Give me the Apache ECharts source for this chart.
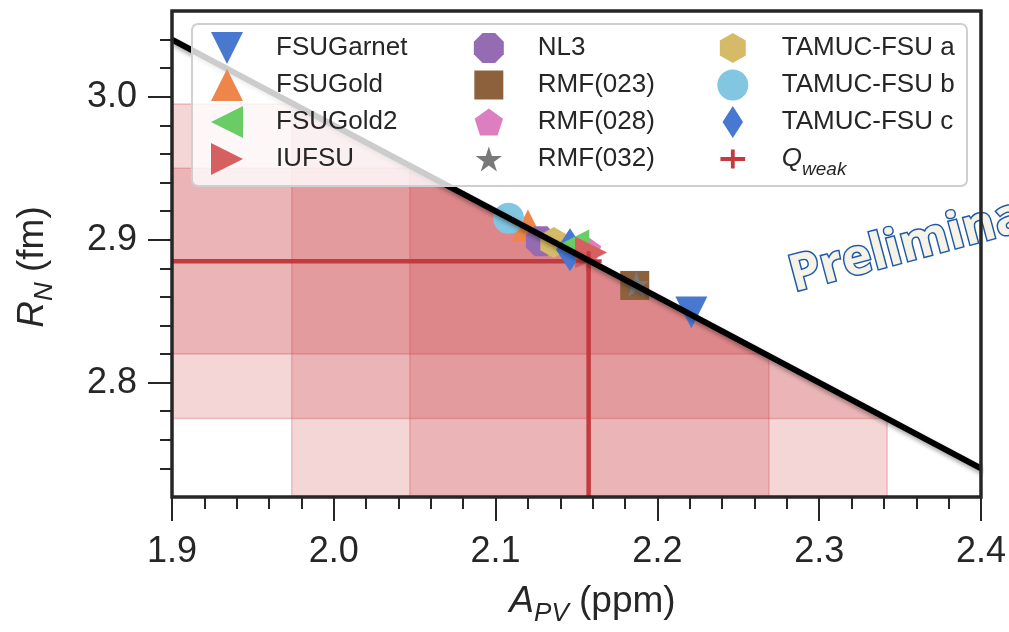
<!DOCTYPE html>
<html>
<head>
<meta charset="utf-8">
<script src="https://cdn.jsdelivr.net/npm/echarts@6/dist/echarts.min.js"></script>
<style>
  html, body { margin: 0; padding: 0; background: #fff; }
  #chart_rn { width: 1009px; height: 632px; }
</style>
</head>
<body>
<div id="chart_rn"></div>
<script>
// models, legend order, with their (A_PV, R_N) points
const modelNames = ['FSUGarnet', 'FSUGold', 'FSUGold2', 'IUFSU', 'NL3', 'RMF(023)', 'RMF(028)', 'RMF(032)', 'TAMUC-FSU a', 'TAMUC-FSU b', 'TAMUC-FSU c'];
const modelApv = [2.221, 2.120, 2.148, 2.159, 2.128, 2.186, 2.156, 2.187, 2.136, 2.108, 2.146];
const modelRn = [2.849, 2.910, 2.896, 2.891, 2.899, 2.868, 2.893, 2.869, 2.898, 2.915, 2.893];

// Qweak point and its bands (outer, inner)
const qweakApv = 2.1575;
const qweakRn = 2.885;
const apvBands = [[1.974, 2.342], [2.047, 2.269]];
const rnBands = [[2.775, 2.995], [2.820, 2.950]];

// correlation line ends
const lineApv = [1.9, 2.4];
const lineRn = [3.040, 2.740];

// axes
const xRange = [1.9, 2.4];
const yRange = [2.72, 3.06];
const xTicks = [1.9, 2.0, 2.1, 2.2, 2.3, 2.4];
const xMinorTicks = [1.92, 1.94, 1.96, 1.98, 2.02, 2.04, 2.06, 2.08, 2.12, 2.14, 2.16, 2.18, 2.22, 2.24, 2.26, 2.28, 2.32, 2.34, 2.36, 2.38];
const yTicks = [2.8, 2.9, 3.0];
const yMinorTicks = [2.74, 2.76, 2.78, 2.82, 2.84, 2.86, 2.88, 2.92, 2.94, 2.96, 2.98, 3.02, 3.04];

// ---- styles ----
const txt = '#262626';
const font = 'Liberation Sans';
const modelColors = ['#4878d0', '#ee854a', '#6acc64', '#d65f5f', '#956cb4', '#8c613c', '#dc7ec0', '#797979', '#d5bb67', '#82c6e2', '#4878d0'];
const qweakColor = '#c23b3f';
const bandFill = 'rgba(205,60,65,0.21)';
const bandEdge = 'rgba(205,60,65,0.28)';
const LEG_H = 32;

// marker shapes: path, bbox w/h, size on plot, height of icon in legend
const shapes = [
  { d: 'M0,0L100,0L50,100Z', w: 100, h: 100, size: [32, 32], leg: 32 },
  { d: 'M50,0L100,100L0,100Z', w: 100, h: 100, size: [32, 32], leg: 32 },
  { d: 'M0,50L100,0L100,100Z', w: 100, h: 100, size: [32, 32], leg: 32 },
  { d: 'M0,0L100,50L0,100Z', w: 100, h: 100, size: [32, 32], leg: 32 },
  { d: 'M29,0L71,0L100,29L100,71L71,100L29,100L0,71L0,29Z', w: 100, h: 100, size: [30, 30], leg: 30 },
  { d: 'M0,0L100,0L100,100L0,100Z', w: 100, h: 100, size: [29, 29], leg: 29 },
  { d: 'M95.1,0L190.2,69.1L153.9,180.9L36.3,180.9L0,69.1Z', w: 190.2, h: 180.9, size: [30, 28.5], leg: 27 },
  { d: 'M95.1,0L117.55,69.1L190.2,69.1L131.4,111.8L153.9,180.9L95.1,138.2L36.3,180.9L58.8,111.8L0,69.1L72.65,69.1Z', w: 190.2, h: 180.9, size: [27, 26], leg: 25 },
  { d: 'M86.6,0L173.2,50L173.2,150L86.6,200L0,150L0,50Z', w: 173.2, h: 200, size: [27, 31], leg: 30 },
  { d: 'M50,0A50,50,0,1,1,50,100A50,50,0,1,1,50,0Z', w: 100, h: 100, size: [31, 31], leg: 31 },
  { d: 'M32,0L64,50L32,100L0,50Z', w: 64, h: 100, size: [28, 43], leg: 32 }
];
const plusShape = { d: 'M0,40L130,40L130,60L0,60ZM55,0L75,0L75,100L55,100Z', w: 130, h: 100, size: [26, 20], leg: 19 };

// pad the path's box so the legend icon comes out at its own height
function symbolOf(s) {
  const k = LEG_H / s.leg;
  const px = s.w * (k - 1) / 2, py = s.h * (k - 1) / 2;
  const pad = 'M' + (-px) + ',' + (-py) + 'L' + (-px) + ',' + (-py) +
              'M' + (s.w + px) + ',' + (s.h + py) + 'L' + (s.w + px) + ',' + (s.h + py);
  return { symbol: 'path://' + s.d + (k > 1.001 ? pad : ''), symbolSize: [s.size[0] * k, s.size[1] * k] };
}

function lineAt(a) {
  return lineRn[0] + (a - lineApv[0]) * (lineRn[1] - lineRn[0]) / (lineApv[1] - lineApv[0]);
}
// keep the part of a polygon that lies below the line
function clipBelowLine(pts) {
  const out = [];
  for (let i = 0; i < pts.length; i++) {
    const p = pts[i], q = pts[(i + 1) % pts.length];
    const fp = lineAt(p[0]) - p[1], fq = lineAt(q[0]) - q[1];
    if (fp >= 0) out.push(p);
    if ((fp >= 0) !== (fq >= 0)) {
      const t = fp / (fp - fq);
      out.push([p[0] + t * (q[0] - p[0]), p[1] + t * (q[1] - p[1])]);
    }
  }
  return out;
}

const bandRects = apvBands.map(b => [b[0], b[1], yRange[0], yRange[1]])
  .concat(rnBands.map(b => [xRange[0], xRange[1], b[0], b[1]]));

// draw order of the markers
const drawOrder = [0, 1, 4, 5, 6, 7, 8, 9, 10, 2, 3];

const series = [];
series.push({
  type: 'custom', z: 1, silent: true,
  data: bandRects,
  renderItem: function (params, api) {
    const x0 = api.value(0), x1 = api.value(1), y0 = api.value(2), y1 = api.value(3);
    const poly = clipBelowLine([[x0, y0], [x1, y0], [x1, y1], [x0, y1]]);
    return {
      type: 'polygon',
      shape: { points: poly.map(p => api.coord(p)) },
      style: { fill: bandFill, stroke: bandEdge, lineWidth: 1.5 }
    };
  }
});
series.push({
  type: 'line', z: 2, silent: true, symbol: 'none',
  data: [[xRange[0], qweakRn], [qweakApv, qweakRn]],
  lineStyle: { color: qweakColor, width: 4.5 }
});
series.push({
  type: 'line', z: 2, silent: true, symbol: 'none',
  data: [[qweakApv, yRange[0]], [qweakApv, qweakRn]],
  lineStyle: { color: qweakColor, width: 4.5 }
});
drawOrder.forEach(i => {
  const sym = symbolOf(shapes[i]);
  series.push({
    name: modelNames[i], type: 'scatter', z: 2,
    symbol: sym.symbol, symbolSize: sym.symbolSize,
    data: [[modelApv[i], modelRn[i]]],
    itemStyle: { color: modelColors[i], opacity: 1 }
  });
});
const plusSym = symbolOf(plusShape);
series.push({
  name: 'Qweak', type: 'scatter', z: 2,
  symbol: plusSym.symbol, symbolSize: plusSym.symbolSize,
  data: [[qweakApv, qweakRn]],
  itemStyle: { color: qweakColor, opacity: 1 }
});
series.push({
  type: 'line', z: 3, silent: true, symbol: 'none',
  data: lineApv.map((a, i) => [a, lineRn[i]]),
  lineStyle: { color: '#000', width: 6, shadowColor: 'rgba(0,0,0,0.35)', shadowBlur: 4, shadowOffsetX: 1, shadowOffsetY: 3 }
});

const legendCols = [modelNames.slice(0, 4), modelNames.slice(4, 8), modelNames.slice(8).concat(['Qweak'])];
const legendLeft = [211, 472, 712];
const legend = legendCols.map((names, k) => ({
  data: names,
  orient: 'vertical',
  left: legendLeft[k],
  top: 32,
  padding: 0,
  itemWidth: 88,
  itemHeight: LEG_H,
  itemGap: 5,
  selectedMode: false,
  z: 6,
  formatter: name => name === 'Qweak' ? '{q|Q}{w|weak}' : name,
  textStyle: {
    fontSize: 26, color: txt, fontFamily: font,
    rich: {
      q: { fontSize: 26, fontStyle: 'italic', color: txt, fontFamily: font, verticalAlign: 'middle', lineHeight: 40 },
      w: { fontSize: 19, fontStyle: 'italic', color: txt, fontFamily: font, verticalAlign: 'bottom', lineHeight: 19 }
    }
  }
}));

const tickLine = { color: txt, width: 2 };
const nameRich = {
  i: { fontSize: 37, fontStyle: 'italic', color: txt, fontFamily: font, lineHeight: 50, verticalAlign: 'middle' },
  s: { fontSize: 26, fontStyle: 'italic', color: txt, fontFamily: font, lineHeight: 26, verticalAlign: 'bottom' },
  n: { fontSize: 37, color: txt, fontFamily: font, lineHeight: 50, verticalAlign: 'middle' }
};

const option = {
  animation: false,
  backgroundColor: '#fff',
  grid: { left: 172, right: 28, top: 11, bottom: 135, show: true, z: 4, borderColor: txt, borderWidth: 3.5, backgroundColor: 'transparent' },
  legend: legend,
  xAxis: [{
    type: 'value', min: xRange[0], max: xRange[1], position: 'bottom',
    axisLine: { show: false }, splitLine: { show: false },
    axisTick: { show: true, customValues: xTicks, length: 24, lineStyle: tickLine },
    axisLabel: { customValues: xTicks, formatter: v => v.toFixed(1), fontSize: 36, color: txt, fontFamily: font, margin: 37 },
    name: '{i|A}{s|PV}{n| (ppm)}', nameLocation: 'middle', nameGap: 80,
    nameTextStyle: { rich: nameRich, padding: [0, 0, 0, 32] }
  }, {
    type: 'value', min: xRange[0], max: xRange[1], position: 'bottom',
    axisLine: { show: false }, splitLine: { show: false },
    axisTick: { show: true, customValues: xMinorTicks, length: 12, lineStyle: tickLine },
    axisLabel: { show: false }
  }],
  yAxis: [{
    type: 'value', min: yRange[0], max: yRange[1], position: 'left',
    axisLine: { show: false }, splitLine: { show: false },
    axisTick: { show: true, customValues: yTicks, length: 24, lineStyle: tickLine },
    axisLabel: { customValues: yTicks, formatter: v => v.toFixed(1), fontSize: 36, color: txt, fontFamily: font, margin: 35 },
    name: '{i|R}{s|N}{n| (fm)}', nameLocation: 'middle', nameGap: 114, nameRotate: 90,
    nameTextStyle: { rich: nameRich, padding: [0, 26, 0, 0] }
  }, {
    type: 'value', min: yRange[0], max: yRange[1], position: 'left',
    axisLine: { show: false }, splitLine: { show: false },
    axisTick: { show: true, customValues: yMinorTicks, length: 12, lineStyle: tickLine },
    axisLabel: { show: false }
  }],
  graphic: {
    elements: [{
      type: 'rect', z: 5, silent: true,
      shape: { x: 192, y: 24, width: 775, height: 162, r: 6 },
      style: { fill: 'rgba(255,255,255,0.8)', stroke: '#cfcfcf', lineWidth: 2 }
    }, {
      type: 'text', z: 2, silent: true,
      x: 797, y: 302, rotation: 15 * Math.PI / 180,
      style: {
        text: 'Preliminary', fontSize: 50, fontWeight: 'bold', fontFamily: 'Open Sans',
        fill: '#f5f2e8', stroke: '#1f5aa6', lineWidth: 3, verticalAlign: 'bottom', align: 'left'
      }
    }]
  },
  series: series
};

let chart_rn = echarts.init(document.getElementById('chart_rn'));
chart_rn.setOption(option);
</script>
</body>
</html>
